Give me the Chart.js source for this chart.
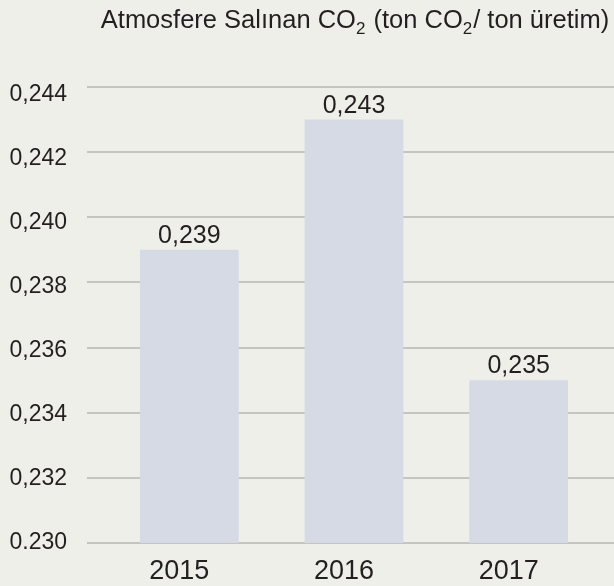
<!DOCTYPE html>
<html>
<head>
<meta charset="utf-8">
<script src="https://cdn.jsdelivr.net/npm/chart.js@4"></script>
<style>
  body { margin: 0; background: #efefe9; }
  .chart-box { width: 614px; height: 586px; }
</style>
</head>
<body>
<div class="chart-box"><canvas id="myChart"></canvas></div>
<script>
// data
let years = ['2015', '2016', '2017']
let co2Values = [0.239, 0.243, 0.235]
let yTickValues = [0.230, 0.232, 0.234, 0.236, 0.238, 0.240, 0.242, 0.244]
let yTickLabels = ['0.230', '0,232', '0,234', '0,236', '0,238', '0,240', '0,242', '0,244']
let titleParts = [['Atmosfere Salınan CO', false], ['2', true], [' (ton CO', false], ['2', true], ['/ ton üretim)', false]]

let textColor = '#231f20'
let fontFamily = '"Liberation Sans", Arial, sans-serif'

// title with subscripts
let titlePlugin = {
    id: 'coTitle',
    afterDraw(chart) {
        let ctx = chart.ctx
        ctx.save()
        ctx.fillStyle = textColor
        ctx.textBaseline = 'alphabetic'
        ctx.textAlign = 'left'
        let total = 0
        titleParts.forEach(p => {
            ctx.font = (p[1] ? '17px ' : '25.5px ') + fontFamily
            total += ctx.measureText(p[0]).width + (p[1] ? 1 : 0)
        })
        let x = 355 - total / 2
        titleParts.forEach(p => {
            ctx.font = (p[1] ? '17px ' : '25.5px ') + fontFamily
            ctx.fillText(p[0], x, p[1] ? 34 : 28)
            x += ctx.measureText(p[0]).width + (p[1] ? 1 : 0)
        })
        ctx.restore()
    }
}

// grid lines run past the bars' area, from the labels to the right edge
let gridPlugin = {
    id: 'longGrid',
    beforeDatasetsDraw(chart) {
        let ctx = chart.ctx
        let y = chart.scales.y
        ctx.save()
        ctx.strokeStyle = '#c4c4c1'
        ctx.lineWidth = 2
        yTickValues.forEach(v => {
            let py = Math.round(y.getPixelForValue(v))
            ctx.beginPath()
            ctx.moveTo(87, py)
            ctx.lineTo(chart.width, py)
            ctx.stroke()
        })
        ctx.restore()
    }
}

// value on top of each bar
let valuePlugin = {
    id: 'barValues',
    afterDatasetsDraw(chart) {
        let ctx = chart.ctx
        let meta = chart.getDatasetMeta(0)
        ctx.save()
        ctx.fillStyle = textColor
        ctx.font = '25px ' + fontFamily
        ctx.textAlign = 'center'
        ctx.textBaseline = 'alphabetic'
        meta.data.forEach((bar, i) => {
            ctx.fillText(co2Values[i].toFixed(3).replace('.', ','), bar.x, bar.y - 7)
        })
        ctx.restore()
    }
}

new Chart('myChart', {
    type: 'bar',
    data: {
        labels: years,
        datasets: [{
            data: co2Values,
            backgroundColor: '#d5dae5',
            borderWidth: 0,
            barPercentage: 0.6,
            categoryPercentage: 1.0
        }]
    },
    options: {
        responsive: true,
        maintainAspectRatio: false,
        animation: false,
        layout: { padding: { top: 87, right: 13, bottom: 0, left: 0 } },
        plugins: {
            legend: { display: false },
            tooltip: { enabled: false },
            title: { display: false }
        },
        scales: {
            x: {
                grid: { display: false, drawTicks: false },
                border: { display: false },
                ticks: { color: textColor, font: { size: 27, family: fontFamily }, padding: 12, labelOffset: -10 },
                afterFit: s => { s.height = 43 }
            },
            y: {
                display: false,
                min: 0.230,
                max: 0.244
            },
            yLabels: {
                position: 'left',
                min: 0.230,
                max: 0.24423,
                grid: { display: false, drawTicks: false },
                border: { display: false },
                afterBuildTicks: s => { s.ticks = yTickValues.map(v => ({ value: v })) },
                ticks: {
                    color: textColor,
                    font: { size: 23, family: fontFamily },
                    padding: 40,
                    callback: (v, i) => yTickLabels[i]
                },
                afterFit: s => {
                    s.width = 107
                    s.paddingTop = 0
                    s.paddingBottom = 0
                }
            }
        }
    },
    plugins: [gridPlugin, valuePlugin, titlePlugin]
})
</script>
</body>
</html>
